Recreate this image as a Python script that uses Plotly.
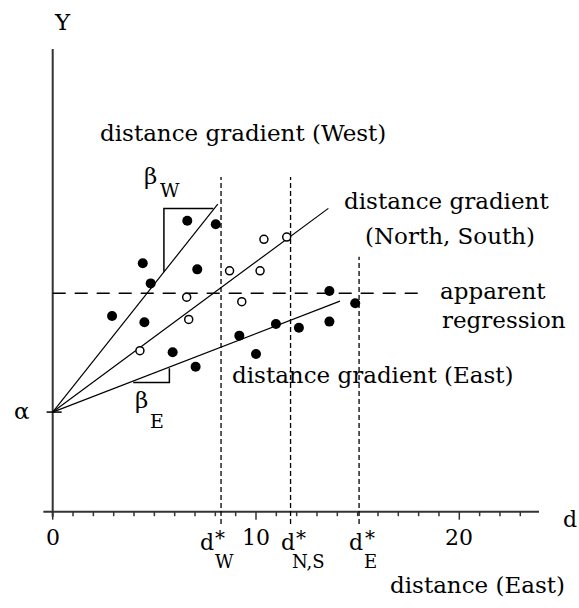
import plotly.graph_objects as go

# ---------------- data (chart units) ----------------
alpha = 4.9
west_x = [6.62, 8.02, 4.43, 7.11, 4.82, 2.92, 4.51]
west_y = [14.31, 14.14, 12.22, 11.92, 11.23, 9.63, 9.32]
east_x = [5.90, 7.03, 9.18, 10.00, 10.98, 12.11, 13.61, 13.61, 14.88]
east_y = [7.84, 7.13, 8.66, 7.76, 9.23, 9.05, 10.86, 9.35, 10.25]
ns_x = [4.29, 6.59, 6.69, 8.70, 9.30, 10.20, 10.39, 11.51]
ns_y = [7.92, 10.55, 9.46, 11.85, 10.33, 11.85, 13.40, 13.51]

grad_names = ["West", "North, South", "East"]
grad_end_x = [8.12, 13.56, 14.13]
grad_end_y = [15.13, 14.92, 10.36]

apparent_y = 10.74
apparent_x = [0.0, 18.15]

dstar_names = ["W", "N,S", "E"]
dstar_x = [8.28, 11.70, 15.07]
dstar_top = [16.46, 16.46, 12.54]
dstar_bottom = -0.6

tri_w_x = [5.47, 5.47, 7.90]
tri_w_y = [11.80, 14.92, 14.92]
tri_e_x = [3.96, 5.74, 5.74]
tri_e_y = [6.35, 6.35, 7.05]

major_ticks = [0, 10, 20]
tick_labels = ["0", "10", "20"]
minor_ticks = [1, 2, 3, 4, 5, 6, 7, 8, 9, 11, 12, 13, 14, 15, 16, 17, 18, 19, 21, 22, 23]

x_axis_span = [-0.46, 23.92]
y_axis_span = [-0.25, 22.76]

# ---------------- geometry of the page ----------------
W, H = 579, 608
S = 20.33            # pixels per unit
X0, Y0 = 52.7, 511.7  # pixel position of the origin
xr = [-X0 / S, (W - X0) / S]
yr = [(Y0 - H) / S, Y0 / S]


def P(px, py):
    return (px - X0) / S, (Y0 - py) / S


FONT = "DejaVu Serif"
INK = "black"
AX = "#333333"

fig = go.Figure()

# axes
fig.add_trace(go.Scatter(x=x_axis_span, y=[0, 0], mode="lines",
                         line=dict(color=AX, width=2), hoverinfo="skip"))
fig.add_trace(go.Scatter(x=[0, 0], y=y_axis_span, mode="lines",
                         line=dict(color=AX, width=2), hoverinfo="skip"))
# ticks
tx, ty = [], []
for t in minor_ticks:
    tx += [t, t, None]
    ty += [0, -4.5 / S, None]
for t in major_ticks:
    tx += [t, t, None]
    ty += [0, -8 / S, None]
fig.add_trace(go.Scatter(x=tx, y=ty, mode="lines",
                         line=dict(color=AX, width=1.5), hoverinfo="skip"))
# alpha tick
fig.add_trace(go.Scatter(x=[-0.3, 0.44], y=[alpha, alpha], mode="lines",
                         line=dict(color=INK, width=1.5), hoverinfo="skip"))

# d* vertical dashed lines
for dx, top in zip(dstar_x, dstar_top):
    fig.add_trace(go.Scatter(x=[dx, dx], y=[dstar_bottom, top], mode="lines",
                             line=dict(color=INK, width=1.3, dash="5px,3px"),
                             hoverinfo="skip"))

# apparent regression
fig.add_trace(go.Scatter(x=apparent_x, y=[apparent_y, apparent_y], mode="lines",
                         line=dict(color=INK, width=1.5, dash="13px,9px"),
                         hoverinfo="skip"))

# gradient lines
for name, ex, ey in zip(grad_names, grad_end_x, grad_end_y):
    fig.add_trace(go.Scatter(x=[0, ex], y=[alpha, ey], mode="lines", name=name,
                             line=dict(color=INK, width=1.2), hoverinfo="skip"))

# slope triangles
fig.add_trace(go.Scatter(x=tri_w_x, y=tri_w_y, mode="lines",
                         line=dict(color=INK, width=1.5), hoverinfo="skip"))
fig.add_trace(go.Scatter(x=tri_e_x, y=tri_e_y, mode="lines",
                         line=dict(color=INK, width=1.5), hoverinfo="skip"))

# points
fig.add_trace(go.Scatter(x=west_x, y=west_y, mode="markers", name="West",
                         marker=dict(color=INK, size=10)))
fig.add_trace(go.Scatter(x=east_x, y=east_y, mode="markers", name="East",
                         marker=dict(color=INK, size=10)))
fig.add_trace(go.Scatter(x=ns_x, y=ns_y, mode="markers", name="North, South",
                         marker=dict(color="white", size=8,
                                     line=dict(color=INK, width=1.5))))

ann = []


def text(px, py, s, size=23, xanchor="center"):
    x, y = P(px, py)
    ann.append(dict(x=x, y=y, xref="x", yref="y", text=s, showarrow=False,
                    xanchor=xanchor, yanchor="middle",
                    font=dict(family=FONT, size=size, color=INK)))


text(62, 22, "Y")
text(98, 133, "distance gradient (West)", xanchor="left")
text(150, 176, "β")
text(170, 190, "W", size=19)
text(341.7, 201, "distance gradient", xanchor="left")
text(363, 236, "(North, South)", xanchor="left")
text(438, 291, "apparent", xanchor="left")
text(440, 320, "regression", xanchor="left")
text(230, 375, "distance gradient (East)", xanchor="left")
text(21.5, 411, "α")
text(141.5, 400, "β")
text(157, 421, "E", size=19)

for t, lab in zip(major_ticks, tick_labels):
    ann.append(dict(x=t, y=P(0, 537)[1], xref="x", yref="y", text=lab,
                    showarrow=False, xanchor="center", yanchor="middle",
                    font=dict(family=FONT, size=22, color=INK)))

dpos = [(206.7, 220, 224), (287.5, 301, 308), (355.7, 370, 370)]
for (dxp, sxp, subp), nm in zip(dpos, dstar_names):
    text(dxp, 542, "d", size=22)
    text(sxp, 538, "*", size=20)
    text(subp, 561, nm, size=18)

text(570, 519, "d", size=22)
text(477, 585, "distance (East)")

fig.update_layout(
    width=W, height=H,
    margin=dict(l=0, r=0, t=0, b=0),
    paper_bgcolor="white", plot_bgcolor="white",
    showlegend=False,
    xaxis=dict(range=xr, visible=False, fixedrange=True),
    yaxis=dict(range=yr, visible=False, fixedrange=True),
    annotations=ann,
)

fig.write_html("out.html")
